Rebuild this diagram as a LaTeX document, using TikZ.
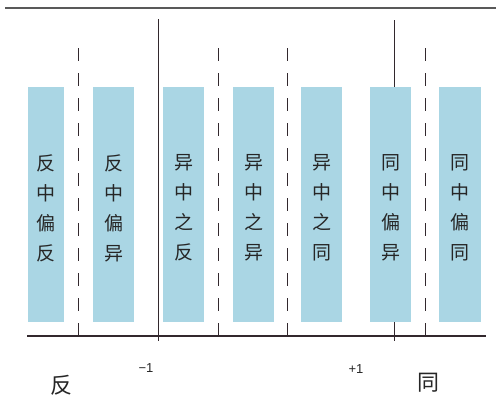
\documentclass[tikz,border=0pt]{standalone}
\usepackage{fontspec}
\setmainfont{Liberation Sans}
\newfontfamily\cjk{Noto Sans CJK SC}
\definecolor{colblue}{RGB}{170,214,228}
\definecolor{linedark}{RGB}{50,40,45}
\begin{document}
\begin{tikzpicture}[x=1pt,y=-1pt,
  colbox/.style={fill=colblue,draw=none},
  coltext/.style={font=\cjk\fontsize{19}{30}\selectfont,align=center,text=black!85},
  dashline/.style={draw=linedark,line width=1pt,dash pattern=on 13pt off 12pt},
  solidline/.style={draw=linedark,line width=1pt},
  endlabel/.style={font=\cjk\fontsize{22}{24}\selectfont,text=black!85},
  numlabel/.style={font=\fontsize{13}{15}\selectfont,text=black!85}]
\useasboundingbox (0,0) rectangle (496,399);
\draw[draw=black!65,line width=1.2pt] (5,8) -- (496,8);
% solid verticals (behind the columns)
\coordinate (s1t) at (158,19);
\coordinate (s1b) at (158,341);
\coordinate (s2t) at (394,20);
\coordinate (s2b) at (394,341);
\draw[solidline] (s1t) -- (s1b);
\draw[solidline] (s2t) -- (s2b);
% columns
\foreach \xa/\xb/\t [count=\i] in {28/64/反\\中\\偏\\反, 93/134/反\\中\\偏\\异, 163/204/异\\中\\之\\反, 233/274/异\\中\\之\\异, 301/342/异\\中\\之\\同, 370/411/同\\中\\偏\\异, 439/481/同\\中\\偏\\同}{
  \fill[colbox] (\xa,87) rectangle (\xb,322);
  \node[coltext] (c\i) at ({(\xa+\xb)/2},208) {\t};
}
% dashed lines
\foreach \x [count=\i] in {78,218,287,425}{
  \coordinate (dt\i) at (\x,48);
  \coordinate (db\i) at (\x,336);
  \draw[dashline] (dt\i) -- (db\i);
  \coordinate (dm\i) at (\x,324);
  \draw[solidline] (dm\i) -- (db\i);
}
% baseline
\coordinate (bl) at (27,336);
\coordinate (br) at (486,336);
\draw[draw=linedark,line width=1.3pt] (bl) -- (br);
% labels
\node[numlabel] (m1) at (146,368) {−1};
\node[numlabel] (p1) at (356,369) {+1};
\node[endlabel] (fan) at (61,385) {反};
\node[endlabel] (tong) at (428,383) {同};
\end{tikzpicture}
\end{document}
